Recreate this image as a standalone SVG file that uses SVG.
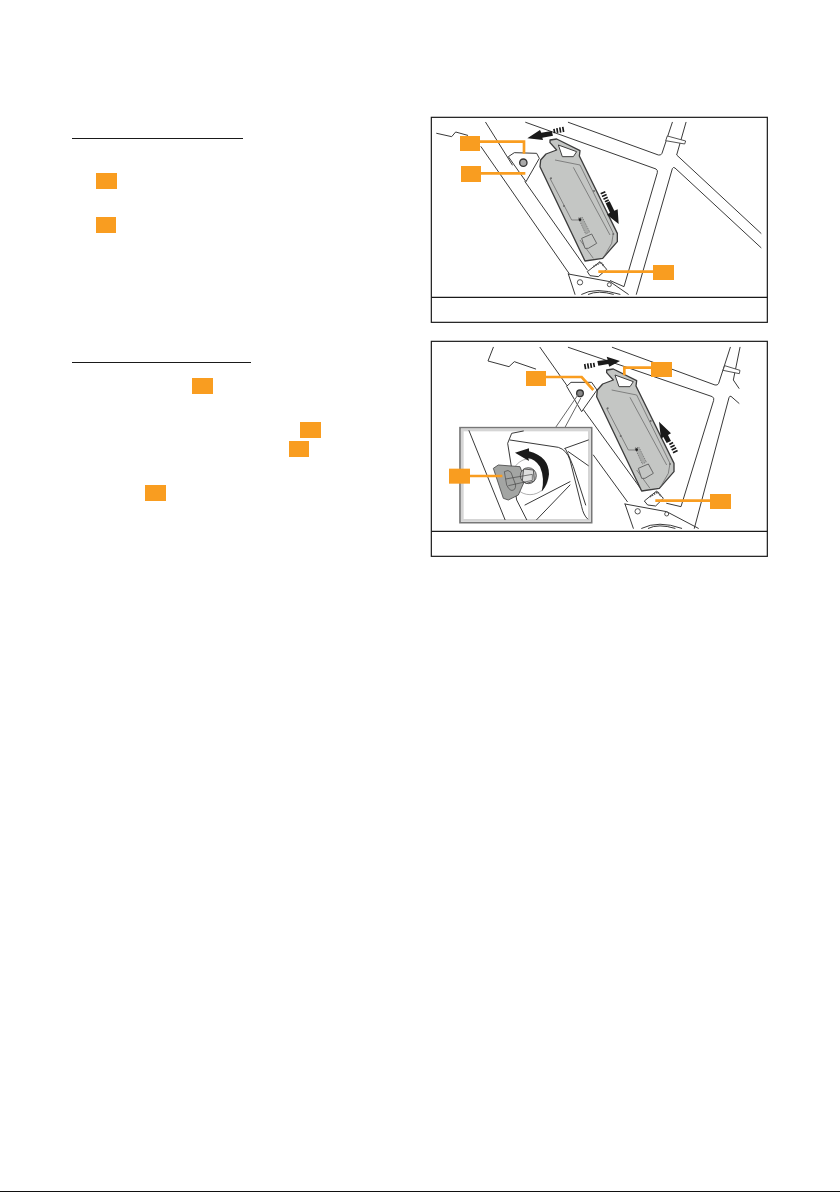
<svg xmlns="http://www.w3.org/2000/svg" xmlns:xlink="http://www.w3.org/1999/xlink" width="840" height="1192" viewBox="0 0 840 1192">
<style>
.box{fill:none;stroke:#1a1a1a;stroke-width:3.6}
.rule{stroke:#1a1a1a;stroke-width:1.2}
.tag{fill:#f99d20}
.lead{fill:none;stroke:#f99d20;stroke-width:8;stroke-linejoin:miter}
.fr{fill:none;stroke:#2a2a2a;stroke-width:2.8;stroke-linejoin:round;stroke-linecap:round}
.thin{fill:none;stroke:#666;stroke-width:2.2}
.bat{fill:#c4c6c4;stroke:#3d3d3d;stroke-width:4;stroke-linejoin:round}
.wb{fill:#fff;stroke:#2a2a2a;stroke-width:2.8;stroke-linejoin:round}
.ar{fill:#1a1a1a}
.dot{fill:#6a6a6a}
</style>
<defs>
<g id="battery">
<path class="bat" d="M375 90L395 87L465 122L463 138L577 370L577 395L533 445L480 453L345 170L347 150L363 132L395 120L375 98Z"/>
<path d="M400 105L455 125L445 140L412 140Z" fill="#fff" stroke="#3d3d3d" stroke-width="3"/>
<path class="thin" d="M390 150L465 165L565 370L560 400L537 440"/>
<path class="thin" d="M445 172L555 375"/>
<path class="thin" d="M375 205L440 330L462 330M465 390L505 445"/>
<path d="M460 324L472 322L494 366L482 372Z" fill="#a8aaa8" stroke="#777" stroke-width="3" stroke-dasharray="3 3"/>
<circle cx="465" cy="329" r="4" fill="#222"/>
<path d="M470 385L500 372L515 400L490 415L480 415Z" fill="#c4c6c4" stroke="#555" stroke-width="2.5"/>
<circle class="dot" cx="378" cy="205" r="3"/><circle class="dot" cx="417" cy="288" r="3"/><circle class="dot" cx="507" cy="243" r="3"/><circle class="dot" cx="565" cy="372" r="3"/>
</g>
<g id="stripes">
<path class="ar" d="M-5 -11H0V11H-5ZM-14 -11H-9V11H-14ZM-23 -10H-18V10H-23ZM-32 -9H-27V9H-32Z"/>
</g>
</defs>

<g id="rules">
<line class="rule" x1="72" y1="138.5" x2="243" y2="138.5"/>
<line class="rule" x1="72" y1="362.5" x2="251" y2="362.5"/>
</g>
<g id="text-tags">
<rect class="tag" x="96" y="173" width="21" height="16"/>
<rect class="tag" x="96" y="217" width="20" height="16"/>
<rect class="tag" x="192" y="378" width="21" height="16"/>
<rect class="tag" x="300" y="422" width="21" height="16"/>
<rect class="tag" x="289" y="441" width="20" height="16"/>
<rect class="tag" x="145" y="485" width="21" height="16"/>
</g>

<g id="panel-1" transform="translate(425 110) scale(.33333)">
<g id="frame-1">
<path class="fr" d="M35 70L80 80L92 66L128 76"/>
<path class="fr" d="M182 37L262 165M300 215L487 480M168 110L432 490"/>
<path class="fr" d="M302 37L693 177Q699 181 697 188L597 530L556 512"/>
<path class="fr" d="M430 37L700 135Q708 137 711 130L742 37"/>
<path class="fr" d="M783 37L755 135L1008 370M1008 413L750 174Q745 170 742 176L634 553"/>
<path d="M722 92L727 78L782 93L779 102Z" fill="#fff" stroke="#333" stroke-width="2.5"/>
<path class="fr" d="M430 492L450 553M430 492L555 515L610 553M470 553Q510 530 585 553M490 553Q520 540 565 553"/>
<circle cx="465" cy="517" r="8" fill="#fff" stroke="#333" stroke-width="2.5"/>
<circle cx="553" cy="524" r="6" fill="#fff" stroke="#333" stroke-width="2.5"/>
<path class="wb" d="M487 485L525 455L545 478L520 500L495 497Z"/>
<path d="M505 470L528 457L538 470" fill="none" stroke="#555" stroke-width="5" stroke-dasharray="4 3"/>
<path class="wb" d="M250 140L268 128L335 130L343 145L303 215Z"/>
<circle cx="295" cy="158" r="11" fill="#aaa" stroke="#333" stroke-width="4"/>
</g>
<use id="battery-1" xlink:href="#battery" href="#battery"/>
<g id="arrows-1">
<path class="ar" d="M307 85L345 60L349 68L380 63L384 77L352 83L354 90Z"/>
<use href="#stripes" xlink:href="#stripes" transform="translate(417 58) rotate(170) scale(-1 .7)"/>
<path class="ar" d="M581 342L546 314L555 308L542 280L554 274L568 302L578 298Z"/>
<use href="#stripes" xlink:href="#stripes" transform="translate(533 246) rotate(65) scale(-1 .7)"/>
</g>
<g id="box-1"><rect class="box" x="19" y="22" width="1008" height="615"/><line class="box" x1="19" y1="562" x2="1027" y2="562"/></g>
</g>
<g id="connectors-1" transform="translate(425 110) scale(.33333)">
<path class="lead" d="M165 95H297V131"/>
<path class="lead" d="M168 190H301"/>
<path class="lead" d="M684 485H520"/>
</g>
<g id="labels-1" transform="translate(425 110) scale(.33333)">
<rect class="tag" x="105" y="78" width="60" height="45"/>
<rect class="tag" x="108" y="168" width="60" height="48"/>
<rect class="tag" x="684" y="465" width="63" height="45"/>
</g>

<g id="panel-2" transform="translate(425 335) scale(.33333)">
<g id="frame-2">
<path class="fr" d="M205 37L189 78L252 95L268 80L332 102"/>
<path class="fr" d="M345 37L460 200M505 360L607 500M465 210L650 465"/>
<path class="fr" d="M430 37L862 185Q868 189 866 196L768 515L725 505"/>
<path class="fr" d="M562 37L870 150Q878 152 881 145L916 37"/>
<path class="fr" d="M945 37L925 135L942 160M942 205L918 184Q914 182 912 188L808 580"/>
<path d="M894 106L899 92L945 106L943 116Z" fill="#fff" stroke="#333" stroke-width="2.5"/>
<path class="fr" d="M600 507L625 580M600 507L725 530L820 580M650 580Q700 555 770 580M670 580Q700 565 750 580"/>
<circle cx="638" cy="529" r="8" fill="#fff" stroke="#333" stroke-width="2.5"/>
<circle cx="725" cy="537" r="6" fill="#fff" stroke="#333" stroke-width="2.5"/>
<path class="wb" d="M658 498L695 468L715 490L692 513L668 510Z"/>
<path d="M675 485L698 471L708 484" fill="none" stroke="#555" stroke-width="5" stroke-dasharray="4 3"/>
<path class="wb" d="M425 154L438 142L500 142L516 165L470 230Z"/>
<circle cx="465" cy="175" r="10" fill="#888" stroke="#333" stroke-width="4"/>
</g>
<use id="battery-2" xlink:href="#battery" href="#battery" transform="translate(170 15)"/>
<g id="arrows-2">
<path class="ar" d="M585 78L553 95L550 87L520 92L517 78L548 74L545 65Z"/>
<use href="#stripes" xlink:href="#stripes" transform="translate(478 95) rotate(170) scale(1 .7)"/>
<path class="ar" d="M702 260L738 295L729 300L738 318L725 324L715 306L708 312Z"/>
<use href="#stripes" xlink:href="#stripes" transform="translate(752 352) rotate(63) scale(1 .7)"/>
</g>
<g id="inset">
<path d="M392 277L460 178M420 277L468 188" fill="none" stroke="#666" stroke-width="3"/>
<rect x="105" y="278" width="395" height="285" fill="#fff" stroke="#777" stroke-width="5"/>
<rect x="112" y="285" width="381" height="271" fill="none" stroke="#d5d5d5" stroke-width="8"/>
<path class="fr" d="M132 287L240 554"/>
<path class="fr" d="M295 288L260 295L248 325L275 495L305 554M255 315L400 337Q425 345 435 375L470 515Q475 540 488 552"/>
<path class="fr" d="M420 340L490 315M430 350L490 392M420 340Q425 345 445 395L482 510"/>
<path class="fr" d="M300 510L435 440M335 554L435 450"/>
<circle cx="315" cy="425" r="54" fill="#fff" stroke="#888" stroke-width="2"/>
<path d="M205 400L220 390L285 395L300 435L280 480L250 495L235 490Z" fill="#a3a5a3" stroke="#444" stroke-width="2.5" stroke-linejoin="round"/>
<circle cx="310" cy="422" r="24" fill="#bbb" stroke="#444" stroke-width="2.5"/>
<path d="M296 402L325 405L328 438L305 445L292 438Z" fill="#ddd" stroke="#444" stroke-width="2.5"/>
<path d="M238 410Q250 402 258 412L272 450Q272 468 258 466Q250 462 245 450ZM242 432L322 418L322 436L250 452" fill="none" stroke="#444" stroke-width="2"/>
<path class="ar" d="M270 353L312 340L312 349Q372 365 372 418Q368 450 350 470Q360 430 345 395Q330 372 310 369L312 378Z"/>
</g>
<g id="box-2"><rect class="box" x="19" y="19" width="1008" height="645"/><line class="box" x1="19" y1="589" x2="1027" y2="589"/></g>
</g>
<g id="connectors-2" transform="translate(425 335) scale(.33333)">
<path class="lead" d="M363 126H470L505 165"/>
<path class="lead" d="M678 98H598V121"/>
<path class="lead" d="M135 423H232"/>
<path class="lead" d="M855 497H691"/>
</g>
<g id="labels-2" transform="translate(425 335) scale(.33333)">
<rect class="tag" x="303" y="108" width="60" height="45"/>
<rect class="tag" x="678" y="81" width="63" height="45"/>
<rect class="tag" x="72" y="401" width="63" height="45"/>
<rect class="tag" x="855" y="477" width="63" height="45"/>
</g>
<rect id="bottom-edge" x="0" y="1191" width="840" height="1" fill="#111"/>
</svg>
